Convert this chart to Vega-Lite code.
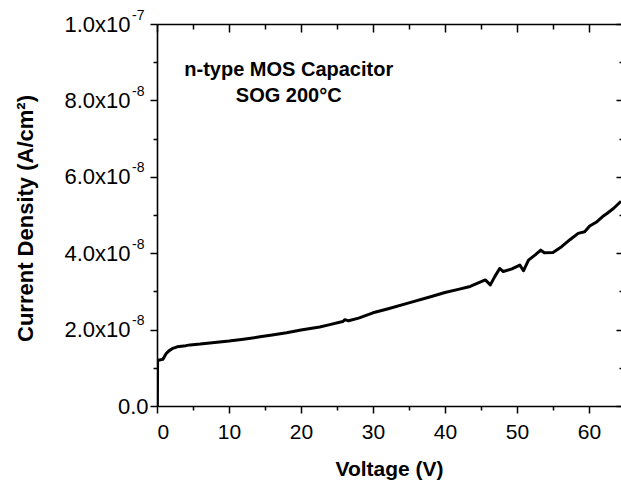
{
  "$schema": "https://vega.github.io/schema/vega-lite/v6.json",
  "width": 464,
  "height": 382,
  "autosize": {"type": "none"},
  "padding": {"left": 157, "top": 24, "right": 0, "bottom": 75},
  "background": "white",
  "config": {
    "view": {"stroke": null},
    "axis": {
      "domainColor": "black", "tickColor": "black", "labelColor": "black", "titleColor": "black",
      "domainWidth": 1.6, "tickWidth": 1.5, "grid": false,
      "labelFont": "Liberation Sans", "titleFont": "Liberation Sans"
    }
  },
  "datasets": {
    "curve": [
      {"V": 0.05, "J": 0},
      {"V": 0.08, "J": 1.19e-8},
      {"V": 0.5, "J": 1.21e-8},
      {"V": 0.8, "J": 1.22e-8},
      {"V": 1.0, "J": 1.28e-8},
      {"V": 1.3, "J": 1.38e-8},
      {"V": 1.7, "J": 1.45e-8},
      {"V": 2.2, "J": 1.51e-8},
      {"V": 2.8, "J": 1.55e-8},
      {"V": 4.0, "J": 1.58e-8},
      {"V": 4.6, "J": 1.60e-8},
      {"V": 6.0, "J": 1.62e-8},
      {"V": 8.0, "J": 1.66e-8},
      {"V": 10.0, "J": 1.70e-8},
      {"V": 12.0, "J": 1.75e-8},
      {"V": 14.3, "J": 1.81e-8},
      {"V": 16.0, "J": 1.86e-8},
      {"V": 18.0, "J": 1.92e-8},
      {"V": 20.0, "J": 1.99e-8},
      {"V": 22.6, "J": 2.07e-8},
      {"V": 24.0, "J": 2.13e-8},
      {"V": 25.8, "J": 2.21e-8},
      {"V": 26.1, "J": 2.26e-8},
      {"V": 26.6, "J": 2.23e-8},
      {"V": 28.0, "J": 2.30e-8},
      {"V": 30.0, "J": 2.44e-8},
      {"V": 32.0, "J": 2.54e-8},
      {"V": 35.0, "J": 2.70e-8},
      {"V": 38.0, "J": 2.86e-8},
      {"V": 40.0, "J": 2.97e-8},
      {"V": 42.0, "J": 3.06e-8},
      {"V": 43.5, "J": 3.13e-8},
      {"V": 45.6, "J": 3.30e-8},
      {"V": 46.3, "J": 3.17e-8},
      {"V": 46.9, "J": 3.38e-8},
      {"V": 47.6, "J": 3.60e-8},
      {"V": 48.1, "J": 3.52e-8},
      {"V": 49.3, "J": 3.59e-8},
      {"V": 50.4, "J": 3.69e-8},
      {"V": 50.9, "J": 3.54e-8},
      {"V": 51.6, "J": 3.82e-8},
      {"V": 52.5, "J": 3.95e-8},
      {"V": 53.3, "J": 4.08e-8},
      {"V": 53.8, "J": 4.01e-8},
      {"V": 55.0, "J": 4.02e-8},
      {"V": 56.2, "J": 4.17e-8},
      {"V": 57.4, "J": 4.36e-8},
      {"V": 58.5, "J": 4.52e-8},
      {"V": 59.4, "J": 4.56e-8},
      {"V": 60.1, "J": 4.71e-8},
      {"V": 61.0, "J": 4.81e-8},
      {"V": 61.9, "J": 4.96e-8},
      {"V": 62.5, "J": 5.04e-8},
      {"V": 63.4, "J": 5.17e-8},
      {"V": 64.45, "J": 5.36e-8}
    ],
    "notes": [
      {"V": 18.3, "J": 8.64e-8, "label": "n-type MOS Capacitor"},
      {"V": 18.3, "J": 7.97e-8, "label": "SOG 200°C"}
    ]
  },
  "data": {"name": "curve"},
  "resolve": {"axis": {"x": "independent", "y": "independent"}},
  "layer": [
    {
      "mark": {"type": "line", "color": "black", "strokeWidth": 3, "strokeJoin": "round", "clip": true},
      "encoding": {
        "x": {"field": "V", "type": "quantitative",
          "scale": {"domain": [0, 64.45], "nice": false, "zero": false},
          "axis": {"orient": "bottom", "values": [0, 10, 20, 30, 40, 50, 60], "tickSize": 7,
            "labelFontSize": 21, "labelPadding": 8, "title": "Voltage (V)",
            "titleFontSize": 21, "titleFontWeight": "bold", "titleY": 69, "titleBaseline": "alphabetic"}},
        "y": {"field": "J", "type": "quantitative",
          "scale": {"domain": [0, 1e-7], "nice": false},
          "axis": {"orient": "left", "values": [0, 2e-8, 4e-8, 6e-8, 8e-8, 1e-7], "tickSize": 7,
            "labelFontSize": 22, "labelPadding": 20, "labelBaseline": "middle",
            "labelExpr": "datum.value == 0 ? '' : (datum.value > 9e-8 ? '1.0x10' : format(datum.value * 1e8, '.1f') + 'x10')",
            "title": "Current Density (A/cm²)", "titleFontSize": 22, "titleFontWeight": "bold",
            "titleX": -125, "titleY": 194, "titleAngle": -90, "titleAlign": "center", "titleBaseline": "alphabetic"}}
      }
    },
    {
      "mark": {"type": "line", "opacity": 0},
      "encoding": {
        "x": {"field": "V", "type": "quantitative",
          "axis": {"orient": "bottom", "values": [5, 15, 25, 35, 45, 55], "tickSize": 4, "labels": false, "domain": false, "title": null}},
        "y": {"field": "J", "type": "quantitative",
          "axis": {"orient": "left", "values": [1e-8, 3e-8, 5e-8, 7e-8, 9e-8], "tickSize": 4, "labels": false, "domain": false, "title": null}}
      }
    },
    {
      "mark": {"type": "line", "opacity": 0},
      "encoding": {
        "x": {"field": "V", "type": "quantitative",
          "axis": {"orient": "top", "values": [0, 10, 20, 30, 40, 50, 60], "tickSize": -8, "labels": false, "title": null}},
        "y": {"field": "J", "type": "quantitative",
          "axis": {"orient": "right", "values": [0, 2e-8, 4e-8, 6e-8, 8e-8, 1e-7], "tickSize": -5, "labels": false, "domain": false, "title": null}}
      }
    },
    {
      "mark": {"type": "line", "opacity": 0},
      "encoding": {
        "x": {"field": "V", "type": "quantitative",
          "axis": {"orient": "top", "values": [5, 15, 25, 35, 45, 55], "tickSize": -5, "labels": false, "domain": false, "title": null}},
        "y": {"field": "J", "type": "quantitative",
          "axis": {"orient": "right", "values": [1e-8, 3e-8, 5e-8, 7e-8, 9e-8], "tickSize": -2, "labels": false, "domain": false, "title": null}}
      }
    },
    {
      "mark": {"type": "line", "opacity": 0},
      "encoding": {
        "x": {"field": "V", "type": "quantitative", "axis": null},
        "y": {"field": "J", "type": "quantitative",
          "axis": {"orient": "left", "values": [0, 2e-8, 4e-8, 6e-8, 8e-8, 1e-7], "ticks": false, "tickSize": 0, "domain": false, "title": null,
            "labelBaseline": "middle",
            "labelExpr": "datum.value == 0 ? '0.0' : (datum.value > 9e-8 ? '-7' : '-8')",
            "labelFontSize": {"condition": {"test": "datum.value == 0", "value": 22}, "value": 14},
            "labelPadding": {"condition": {"test": "datum.value == 0", "value": 9}, "value": 13},
            "labelOffset": {"condition": {"test": "datum.value == 0", "value": 0}, "value": -9}}}
      }
    },
    {
      "data": {"name": "notes"},
      "mark": {"type": "text", "font": "Liberation Sans", "fontWeight": "bold", "fontSize": 20, "align": "center", "baseline": "alphabetic", "color": "black"},
      "encoding": {
        "x": {"field": "V", "type": "quantitative", "axis": null},
        "y": {"field": "J", "type": "quantitative", "axis": null},
        "text": {"field": "label"}
      }
    }
  ]
}
